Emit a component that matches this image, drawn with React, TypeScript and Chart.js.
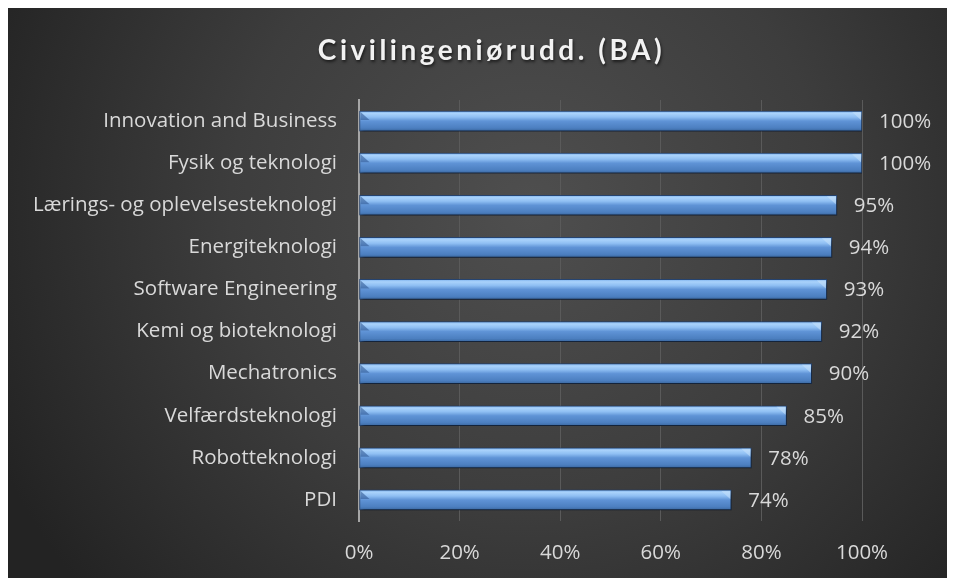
import React, { useEffect, useRef } from "react";
import { Chart, registerables } from "chart.js";

Chart.register(...registerables);

const TITLE = "Civilingeniørudd. (BA)";
const categories = [
  "Innovation and Business",
  "Fysik og teknologi",
  "Lærings- og oplevelsesteknologi",
  "Energiteknologi",
  "Software Engineering",
  "Kemi og bioteknologi",
  "Mechatronics",
  "Velfærdsteknologi",
  "Robotteknologi",
  "PDI",
];
const values = [1.0, 1.0, 0.95, 0.94, 0.93, 0.92, 0.9, 0.85, 0.78, 0.74];
const xMin = 0;
const xMax = 1;
const xStep = 0.2;

const FONT = "'Open Sans', Lato, sans-serif";
const TITLE_FONT = "Lato, 'Open Sans', sans-serif";
const TEXT = "#d9d9d9";
const BAR_H = 20;
const LABEL_SIZE = 20.5;

const pct = (v: number) => `${Math.round(v * 100)}%`;

const bgPlugin = {
  id: "bgPlugin",
  beforeDraw(chart: any) {
    const { ctx, width, height } = chart;
    ctx.save();
    const g = ctx.createRadialGradient(width * 0.55, height * 0.35, 10, width * 0.55, height * 0.35, width * 0.62);
    g.addColorStop(0, "#4e4e4e");
    g.addColorStop(0.5, "#3d3d3d");
    g.addColorStop(1, "#232323");
    ctx.fillStyle = g;
    ctx.fillRect(0, 0, width, height);
    ctx.restore();
  },
};

const titlePlugin = {
  id: "titlePlugin",
  afterDraw(chart: any) {
    const { ctx, width } = chart;
    ctx.save();
    (ctx as any).letterSpacing = "3.5px";
    ctx.font = `bold 28px ${TITLE_FONT}`;
    ctx.fillStyle = "#f2f2f2";
    ctx.textAlign = "center";
    ctx.textBaseline = "middle";
    ctx.shadowColor = "rgba(0,0,0,0.6)";
    ctx.shadowBlur = 3;
    ctx.shadowOffsetX = 1;
    ctx.shadowOffsetY = 2;
    ctx.fillText(TITLE, width / 2 + 10, 43);
    ctx.restore();
  },
};

const shadowPlugin = {
  id: "shadowPlugin",
  beforeDatasetsDraw(chart: any) {
    const ctx = chart.ctx;
    ctx.save();
    ctx.shadowColor = "rgba(0,0,0,0.55)";
    ctx.shadowBlur = 4;
    ctx.shadowOffsetX = 2;
    ctx.shadowOffsetY = 3;
  },
  afterDatasetsDraw(chart: any) {
    const ctx = chart.ctx;
    ctx.restore();
    const meta = chart.getDatasetMeta(0);
    ctx.save();
    meta.data.forEach((el: any, i: number) => {
      const x0 = el.base;
      const x1 = el.x;
      const yt = el.y - BAR_H / 2;
      const b = 9;
      ctx.fillStyle = "rgba(40,80,140,0.55)";
      ctx.beginPath();
      ctx.moveTo(x0 + 1, yt + 1);
      ctx.lineTo(x0 + 1 + b, yt + b);
      ctx.lineTo(x0 + 1, yt + b);
      ctx.closePath();
      ctx.fill();
      ctx.fillStyle = "rgba(200,225,250,0.55)";
      ctx.beginPath();
      ctx.moveTo(x1 - 1, yt + 1);
      ctx.lineTo(x1 - 1, yt + b);
      ctx.lineTo(x1 - 1 - b, yt + 1);
      ctx.closePath();
      ctx.fill();
      ctx.fillStyle = TEXT;
      ctx.font = `${LABEL_SIZE}px ${FONT}`;
      ctx.textAlign = "left";
      ctx.textBaseline = "middle";
      ctx.fillText(pct(values[i]), x1 + 17, el.y + 1);
    });
    ctx.restore();
  },
};

export default function App() {
  const ref = useRef<HTMLCanvasElement | null>(null);
  useEffect(() => {
    document.body.style.overflow = "hidden";
    const canvas = ref.current!;
    const chart = new Chart(canvas, {
      type: "bar",
      data: {
        labels: categories,
        datasets: [
          {
            data: values,
            barThickness: BAR_H,
            borderWidth: 1,
            borderColor: "rgba(35,70,120,0.9)",
            borderSkipped: false,
            backgroundColor: (c: any) => {
              const chart = c.chart;
              const ys = chart.scales && chart.scales.y;
              if (!ys || c.dataIndex === undefined) return "#6a9de0";
              const yc = ys.getPixelForValue(c.dataIndex);
              if (!Number.isFinite(yc)) return "#6a9de0";
              const g = chart.ctx.createLinearGradient(0, yc - BAR_H / 2, 0, yc + BAR_H / 2);
              g.addColorStop(0, "#7fb3ee");
              g.addColorStop(0.12, "#a9d2fb");
              g.addColorStop(0.3, "#8fbff3");
              g.addColorStop(0.5, "#5f93d6");
              g.addColorStop(0.85, "#4c7fc0");
              g.addColorStop(1, "#3a679f");
              return g;
            },
          },
        ],
      },
      options: {
        indexAxis: "y",
        animation: false,
        responsive: false,
        maintainAspectRatio: false,
        layout: { padding: { left: 0, right: 93, top: 92, bottom: 0 } },
        plugins: {
          legend: { display: false },
          title: { display: false },
          tooltip: { enabled: false },
        },
        scales: {
          x: {
            min: xMin,
            max: xMax,
            ticks: {
              stepSize: xStep,
              color: TEXT,
              font: { family: FONT, size: LABEL_SIZE },
              padding: 20,
              callback: (v: any) => pct(Number(v)),
            },
            grid: { color: "#5a5a5a", lineWidth: 1, drawTicks: false },
            border: { display: false },
            afterFit: (s: any) => {
              s.height = 57;
            },
          },
          y: {
            ticks: {
              color: TEXT,
              font: { family: FONT, size: LABEL_SIZE },
              padding: 22,
            },
            grid: { display: false, drawTicks: false },
            border: { display: true, color: "#a6a6a6", width: 2 },
            afterFit: (s: any) => {
              s.width = 351;
            },
          },
        },
      },
      plugins: [bgPlugin, shadowPlugin, titlePlugin],
    });
    return () => chart.destroy();
  }, []);
  return (
    <div style={{ width: 947, height: 570 }}>
      <canvas ref={ref} width={947} height={570} style={{ display: "block" }} />
    </div>
  );
}
